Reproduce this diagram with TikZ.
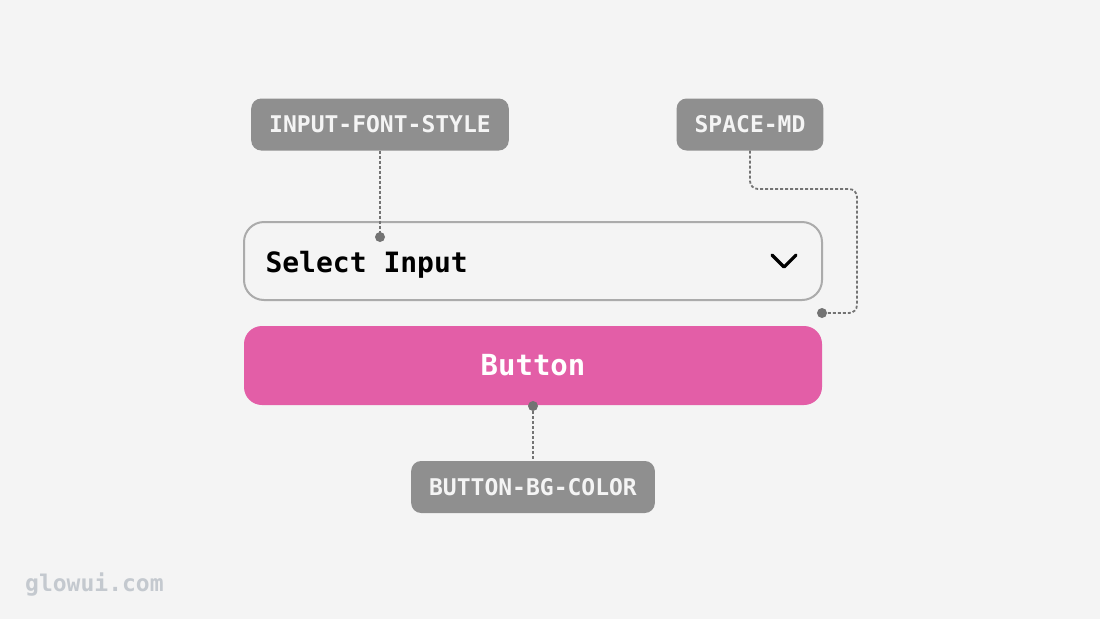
\documentclass[tikz,border=0pt]{standalone}
\usepackage{fontspec}
\setmonofont{DejaVu Sans Mono}
\usetikzlibrary{positioning,calc}
\definecolor{canvas}{HTML}{F4F4F4}
\definecolor{taggray}{HTML}{8F8F8F}
\definecolor{tagtext}{HTML}{F4F4F4}
\definecolor{leadgray}{HTML}{737373}
\definecolor{framegray}{HTML}{ABABAB}
\definecolor{btnpink}{HTML}{E35EA7}
\definecolor{markgray}{HTML}{C4C9CF}
\tikzset{
  tag/.style={fill=taggray, text=tagtext, rounded corners=10pt, minimum height=52pt,
    inner xsep=18pt, font=\ttfamily\bfseries\fontsize{23}{27}\selectfont},
  lead/.style={draw=leadgray, line width=1.8pt, dash pattern=on 3pt off 2pt},
  pin/.style={circle, fill=leadgray, inner sep=0pt, minimum size=10pt},
  field/.style={draw=framegray, line width=2pt, fill=canvas, rounded corners=20pt,
    minimum width=578pt, minimum height=78pt},
  btn/.style={fill=btnpink, text=white, rounded corners=18pt, minimum width=578pt,
    minimum height=79pt, font=\ttfamily\bfseries\fontsize{29}{34}\selectfont},
}

\begin{document}
\begin{tikzpicture}[x=1pt, y=-1pt]
	% canvas 1100 x 619
	\fill[canvas] (0,0) rectangle (1100,619);
	\useasboundingbox (0,0) rectangle (1100,619);
	% select input
	\node[field] (select) at (533,261) {};
	\node[anchor=base west, font=\ttfamily\bfseries\fontsize{28}{33}\selectfont] (selecttext) at (262,272) {Select Input};
	\draw[line width=3.2pt, line cap=round, line join=round] ($(select.east)+(-51,-6)$) -- ++(12,12) -- ++(12,-12);
	% button
	\node[btn] (button) at (533,365.5) {Button};
	% tags
	\node[tag] (fontstyle) at (380,124.5) {INPUT-FONT-STYLE};
	\node[tag] (spacemd) at (750,124.5) {SPACE-MD};
	\node[tag] (bgcolor) at (533,487) {BUTTON-BG-COLOR};
	% pins
	\node[pin] (pinfont) at (380,237) {};
	\node[pin] (pinspace) at (822,313) {};
	\node[pin] (pinbg) at (533,406) {};
	\coordinate (bend) at (857,189);
	% leads
	\draw[lead] (fontstyle.south) -- (pinfont.center);
	\draw[lead, rounded corners=8pt] (spacemd.south) |- (bend) |- (pinspace.center);
	\draw[lead] (pinbg.center) -- (bgcolor.north);
	% watermark
	\node[anchor=west, text=markgray, inner sep=0pt, font=\ttfamily\bfseries\fontsize{23}{27}\selectfont] (mark) at (25,585) {glowui.com};
\end{tikzpicture}
\end{document}
